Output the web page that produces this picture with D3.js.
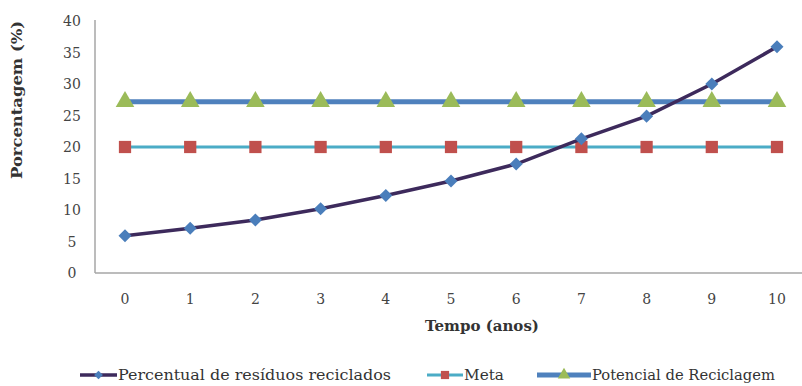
<!DOCTYPE html>
<html><head><meta charset="utf-8">
<script src="https://cdn.jsdelivr.net/npm/d3@7"></script>
<style>body{margin:0;background:#fff}svg{display:block}text{font-family:"DejaVu Serif","Liberation Serif","Times New Roman",serif}</style>
</head><body>
<script>
const years = [0,1,2,3,4,5,6,7,8,9,10];
const percentual = [5.9,7.1,8.4,10.2,12.3,14.6,17.3,21.3,24.9,30.0,35.9];
const meta = [20,20,20,20,20,20,20,20,20,20,20];
const potencial = [27.2,27.2,27.2,27.2,27.2,27.2,27.2,27.2,27.2,27.2,27.2];
const yTicks = [0,5,10,15,20,25,30,35,40];
const seriesNames = ["Percentual de  resíduos reciclados","Meta","Potencial de Reciclagem"];

const W=802,H=386;
const svg=d3.select("body").append("svg").attr("width",W).attr("height",H);
const x=d3.scaleLinear().domain([0,10]).range([125,777]);
const y=d3.scaleLinear().domain([0,40]).range([273,21]);

// axes
svg.append("line").attr("x1",95).attr("x2",95).attr("y1",y(40)-1).attr("y2",y(0)).attr("stroke","#a6a6a6").attr("stroke-width",1.5);
svg.append("line").attr("x1",95).attr("x2",802).attr("y1",y(0)).attr("y2",y(0)).attr("stroke","#a6a6a6").attr("stroke-width",1.5);
svg.selectAll(".yt").data(yTicks).enter().append("text")
 .attr("x",72).attr("y",d=>y(d)+5).attr("text-anchor","middle")
 .style("font-size","14px").attr("fill","#444").text(d=>d);
svg.selectAll(".xt").data(years).enter().append("text")
 .attr("x",d=>x(d)).attr("y",304).attr("text-anchor","middle")
 .style("font-size","14px").attr("fill","#444").text(d=>d);
svg.append("text").attr("transform","translate(22,100) rotate(-90)").attr("text-anchor","middle")
 .style("font-size","15px").style("font-weight","bold").attr("fill","#333")
 .attr("textLength",158).attr("lengthAdjust","spacingAndGlyphs").text("Porcentagem (%)");
svg.append("text").attr("x",482).attr("y",331).attr("text-anchor","middle")
 .style("font-size","15px").style("font-weight","bold").attr("fill","#333").text("Tempo (anos)");

const line=d3.line().x((d,i)=>x(years[i])).y(d=>y(d));
const sPot={color:"#4f81bd",w:5,marker:d3.symbolTriangle,mColor:"#9bbb59",mSize:150,rot:0};
const sMeta={color:"#4bacc6",w:3,marker:d3.symbolSquare,mColor:"#c0504d",mSize:150,rot:0};
const sPerc={color:"#3d2a5c",w:3.5,marker:d3.symbolSquare,mColor:"#4a7ebb",mSize:85,rot:45};
function draw(data,s){
  svg.append("path").datum(data).attr("d",line).attr("fill","none").attr("stroke",s.color).attr("stroke-width",s.w);
  svg.selectAll(null).data(data).enter().append("path")
   .attr("d",d3.symbol().type(s.marker).size(s.mSize))
   .attr("transform",(d,i)=>`translate(${x(years[i])},${y(d)}) rotate(${s.rot})`).attr("fill",s.mColor);
}
draw(meta,sMeta);
draw(potencial,sPot);
draw(percentual,sPerc);

// legend
const legend=[
 {s:sPerc,x0:80,x1:117,tw:273,name:seriesNames[0]},
 {s:sMeta,x0:427,x1:463,tw:40,name:seriesNames[1]},
 {s:sPot,x0:537,x1:591,tw:183,name:seriesNames[2]}];
const ly=375;
legend.forEach(l=>{
  svg.append("line").attr("x1",l.x0).attr("x2",l.x1).attr("y1",ly).attr("y2",ly).attr("stroke",l.s.color).attr("stroke-width",l.s.w);
  svg.append("path").attr("d",d3.symbol().type(l.s.marker).size(l.s.mSize*0.45)).attr("transform",`translate(${(l.x0+l.x1)/2},${ly}) rotate(${l.s.rot})`).attr("fill",l.s.mColor);
  svg.append("text").attr("x",l.x1+1).attr("y",ly+5).style("font-size","15px")
   .attr("textLength",l.tw).attr("lengthAdjust","spacingAndGlyphs").attr("fill","#333").text(l.name);
});
</script>
</body></html>
